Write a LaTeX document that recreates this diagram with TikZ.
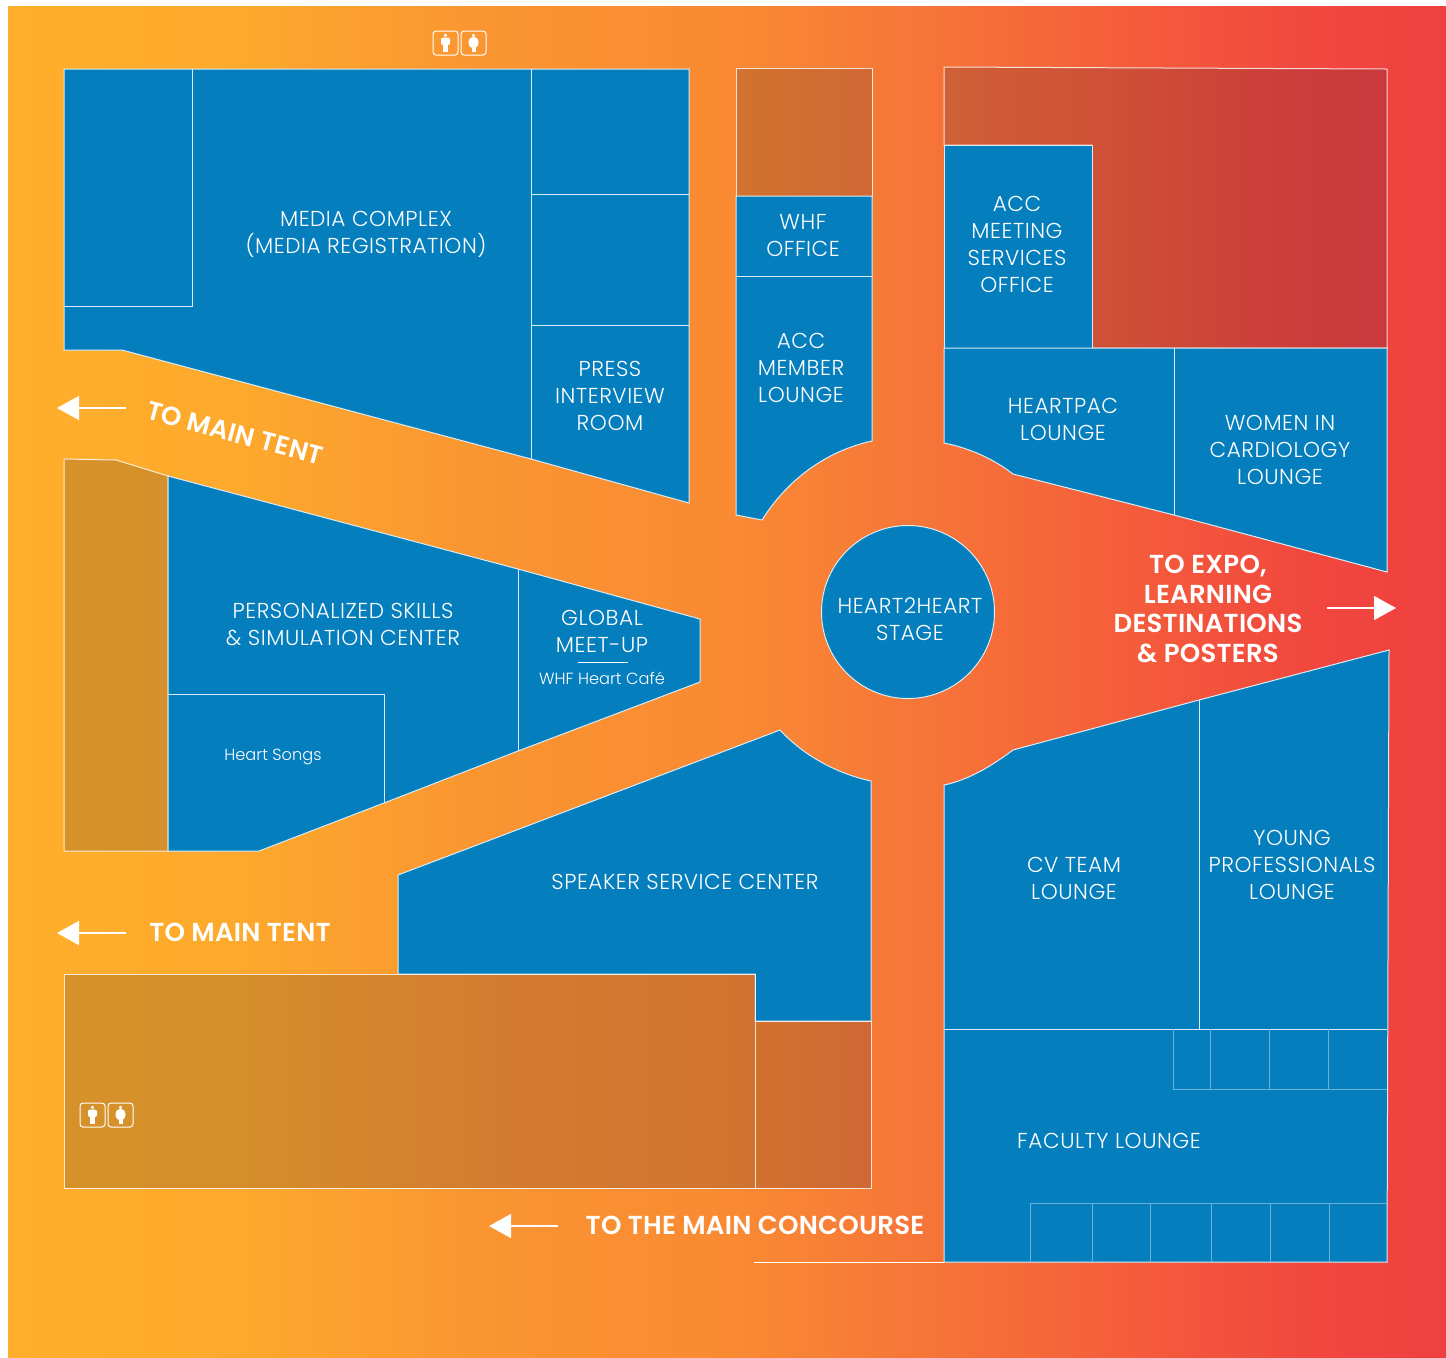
\documentclass[tikz,border=0pt]{standalone}
\usepackage{fontspec}
\setmainfont{Poppins Light}[LetterSpace=2.5]
\newfontfamily\plainfont{Poppins Light}
\newfontfamily\exitfont{Poppins SemiBold}[LetterSpace=1]
\usetikzlibrary{positioning,calc,arrows.meta}
\definecolor{roomblue}{HTML}{057EBD}
\definecolor{floora}{HTML}{FFAF2B}
\definecolor{floorb}{HTML}{FDA92D}
\definecolor{floorc}{HTML}{FA9431}
\definecolor{floord}{HTML}{F98A32}
\definecolor{floore}{HTML}{F67838}
\definecolor{floorf}{HTML}{F5603A}
\definecolor{floorg}{HTML}{F1483E}
\definecolor{floorh}{HTML}{EF4040}
\pgfdeclarehorizontalshading{venuefloor}{100bp}{color(0bp)=(floora); color(25bp)=(floora); color(33bp)=(floorb); color(42bp)=(floorc); color(50bp)=(floord); color(56bp)=(floore); color(63bp)=(floorf); color(70bp)=(floorg); color(75bp)=(floorh); color(100bp)=(floorh)}
\tikzset{
	x=.5pt, y=-.5pt,
	room/.style={fill=roomblue, draw=white!85!roomblue, line width=.5pt, line join=miter},
	dimroom/.style={fill=black!85!blue, fill opacity=.155, draw=white, draw opacity=.8, line width=.5pt},
	wall/.style={draw=white!85!roomblue, line width=.5pt},
	booth/.style={draw=white!40!roomblue, line width=.5pt},
	roomlabel/.style={text=white, align=center, inner sep=0pt, font=\fontsize{10.8}{13.5}\selectfont},
	smalllabel/.style={text=white, align=center, inner sep=0pt, font=\plainfont\fontsize{8.1}{10}\selectfont},
	exitlabel/.style={text=white, align=center, inner sep=0pt, font=\exitfont\fontsize{13}{14.7}\selectfont},
	exitarrow/.style={draw=white, line width=.7pt, -{Triangle[length=11pt, width=12pt]}},
	restroom/.pic={
		\draw[white, line width=.5pt, rounded corners=1.5pt] (0,0) rectangle (25,24);
		\fill[white] (12.5,4.3) circle (1.7);
		\fill[white, rounded corners=1pt] (8,6.5) rectangle (17,14);
		\fill[white] (10,13) rectangle (15,21);
		\draw[white, line width=.5pt, rounded corners=1.5pt] (28,0) rectangle (53,24);
		\fill[white] (40.5,4.3) circle (1.7);
		\fill[white] (40.5,11.5) ellipse (5 and 6);
		\fill[white] (38.5,15) rectangle (42.5,21);
	}
}

\begin{document}
\begin{tikzpicture}
	\useasboundingbox (0,0) rectangle (1446,1357);
	\shade[shading=venuefloor] (8,6) rectangle (1446,1357);

	\draw[room] (64,69) -- (689,69) -- (689,503) -- (531,459) -- (122,350) -- (64,350) -- cycle;
	\draw[wall] (64,306) -- (192,306) -- (192,69);
	\draw[wall] (531,69) -- (531,459);
	\draw[wall] (531,194) -- (689,194);
	\draw[wall] (531,325) -- (689,325);

	\draw[dimroom] (736,68) rectangle (872,196);
	\draw[room] (736,196) -- (872,196) -- (872,441) .. controls (826,451) and (787,480) .. (762,520) -- (736,515) -- cycle;
	\draw[wall] (736,276) -- (872,276);

	\draw[dimroom] (944,67) -- (1387,69) -- (1387,348) -- (1092,348) -- (1092,145) -- (944,145) -- cycle;
	\draw[room] (944,145) rectangle (1092,348);
	\draw[room] (944,348) -- (1387,348) -- (1387,572) -- (1174,515) -- (1013,474) .. controls (993,458.5) and (969,448) .. (944,443) -- cycle;
	\draw[wall] (1174,348) -- (1174,515);

	\draw[dimroom] (64,459) -- (116,460) -- (168,476) -- (168,851) -- (64,851) -- cycle;
	\draw[room] (168,476) -- (518,569) -- (700,619) -- (700,682) -- (518,751) -- (384,803) -- (259,851) -- (168,851) -- cycle;
	\draw[wall] (518,569) -- (518,751);
	\draw[wall] (168,694) -- (384,694) -- (384,803);
	\draw[white, line width=.3pt] (578,662) -- (628,662);

	\draw[room] (780,730) .. controls (804,756) and (837,773.5) .. (871,781) -- (871,1021) -- (755,1021) -- (755,974) -- (398,974) -- (398,875) -- cycle;
	\draw[dimroom] (64,974) -- (755,974) -- (755,1021) -- (871,1021) -- (871,1188) -- (64,1188) -- cycle;
	\draw[white, draw opacity=.8, line width=.5pt] (755,1021) -- (755,1188);

	\draw[room] (944,785) .. controls (969,780) and (993,765) .. (1013,750) -- (1199,700) -- (1389,650) -- (1387,1262) -- (944,1262) -- cycle;
	\draw[wall] (1199,700) -- (1199,1029);
	\draw[wall] (944,1029) -- (1387,1029);
	\foreach \xa in {1173,1210,1269,1328}
		\draw[booth] (\xa,1029) -- (\xa,1089);
	\draw[booth] (1173,1089) -- (1387,1089);
	\foreach \xa in {1030,1092,1150,1211,1270,1329}
		\draw[booth] (\xa,1203) -- (\xa,1262);
	\draw[booth] (1030,1203) -- (1387,1203);
	\draw[white, line width=.5pt] (754,1262) -- (944,1262);

	\node[circle, minimum size=86.5pt, inner sep=0pt, fill=roomblue, draw=white!85!roomblue, line width=.5pt] (stage) at (908,612) {};

	\pic (wc1) at (433,31) {restroom};
	\pic (wc2) at (80,1103) {restroom};

	\node[roomlabel] (media) at (366,234) {MEDIA COMPLEX\\(MEDIA REGISTRATION)};
	\node[roomlabel] (press) at (610,396) {PRESS\\INTERVIEW\\ROOM};
	\node[roomlabel] (whf) at (803,236) {WHF\\OFFICE};
	\node[roomlabel] (member) at (801,368) {ACC\\MEMBER\\LOUNGE};
	\node[roomlabel] (services) at (1017,244) {ACC\\MEETING\\SERVICES\\OFFICE};
	\node[roomlabel] (heartpac) at (1063,419) {HEARTPAC\\LOUNGE};
	\node[roomlabel] (women) at (1280,450) {WOMEN IN\\CARDIOLOGY\\LOUNGE};
	\node[roomlabel] (stagetext) at (910,619) {HEART2HEART\\STAGE};
	\node[roomlabel] (skills) at (343,624) {PERSONALIZED SKILLS\\\& SIMULATION CENTER};
	\node[roomlabel] (meetup) at (602,631) {GLOBAL\\MEET-UP};
	\node[smalllabel] (cafe) at (602,678) {WHF Heart Café};
	\node[smalllabel] (songs) at (273,757) {Heart Songs};
	\node[roomlabel] (speaker) at (685,882) {SPEAKER SERVICE CENTER};
	\node[roomlabel] (cvteam) at (1074,878) {CV TEAM\\LOUNGE};
	\node[roomlabel] (young) at (1292,865) {YOUNG\\PROFESSIONALS\\LOUNGE};
	\node[roomlabel] (faculty) at (1109,1141) {FACULTY LOUNGE};

	\node[exitlabel, rotate=-15] (tenta) at (235,433) {TO MAIN TENT};
	\node[exitlabel] (tentb) at (240,932) {TO MAIN TENT};
	\node[exitlabel] (concourse) at (755,1225) {TO THE MAIN CONCOURSE};
	\node[exitlabel] (expo) at (1208,609) {TO EXPO,\\LEARNING\\DESTINATIONS\\\& POSTERS};

	\coordinate (a1) at (126,408);
	\coordinate (a2) at (57,408);
	\coordinate (b1) at (126,933);
	\coordinate (b2) at (57,933);
	\coordinate (c1) at (558,1226);
	\coordinate (c2) at (489,1226);
	\coordinate (d1) at (1327,608);
	\coordinate (d2) at (1396,608);
	\draw[exitarrow] (a1) -- (a2);
	\draw[exitarrow] (b1) -- (b2);
	\draw[exitarrow] (c1) -- (c2);
	\draw[exitarrow] (d1) -- (d2);
\end{tikzpicture}
\end{document}
